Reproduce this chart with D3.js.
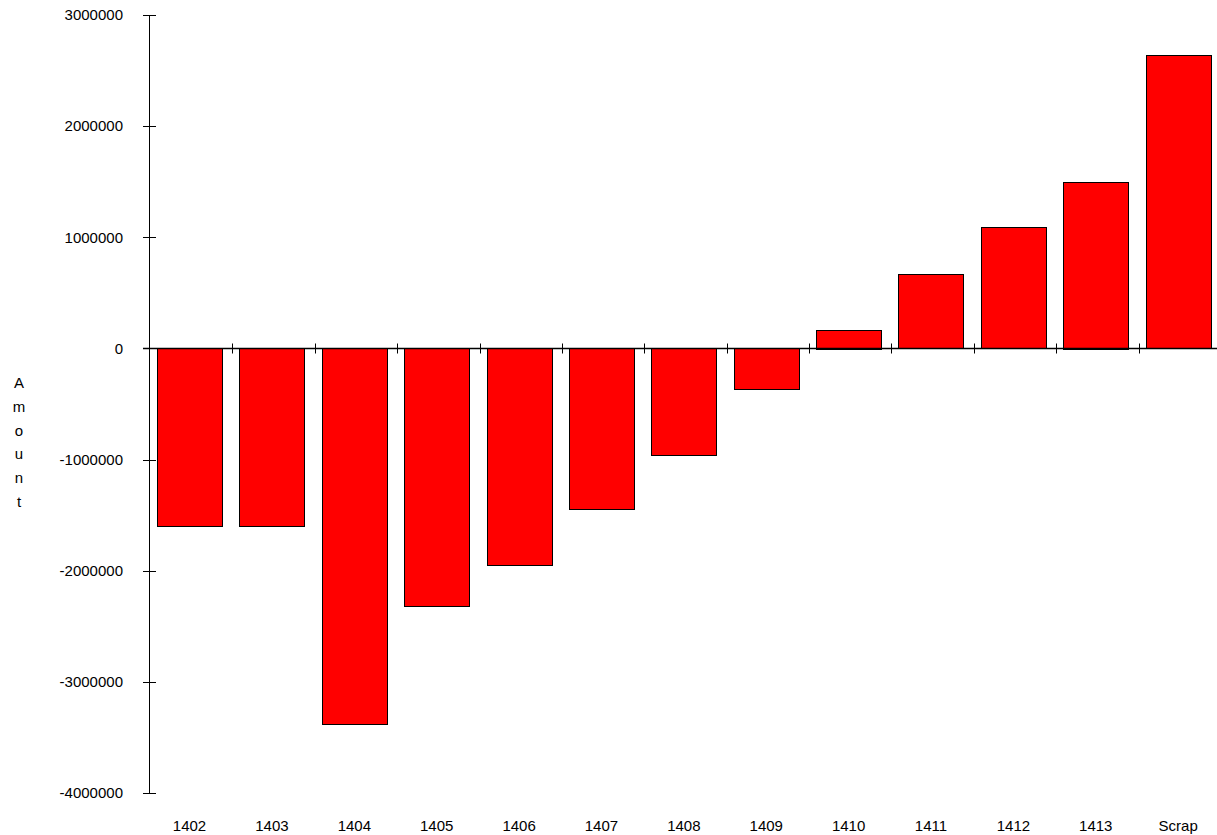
<!DOCTYPE html>
<meta charset="utf-8">
<style>
body { margin: 0; background: #fff; }
text { font-family: "Liberation Sans", Arial, sans-serif; fill: #000; }
.bar { fill: #ff0000; stroke: #000; stroke-width: 1px; }
.axis line, .axis path { stroke: #000; }
</style>
<body>
<svg id="chart"></svg>
<script src="https://d3js.org/d3.v7.min.js"></script>
<script>

var categories = ["1402", "1403", "1404", "1405", "1406", "1407", "1408", "1409", "1410", "1411", "1412", "1413", "Scrap"];
var amounts = [-1600000, -1600000, -3380000, -2320000, -1950000, -1450000, -960000, -370000, 170000, 670000, 1090000, 1500000, 2640000];
var yTicks = [3000000, 2000000, 1000000, 0, -1000000, -2000000, -3000000, -4000000];
var axisTitle = "Amount";

var width = 1217,
    height = 835;

var svg = d3.select("#chart")
    .attr("width", width)
    .attr("height", height);

var x = d3.scaleBand()
    .domain(categories)
    .range([150, 1221])
    .padding(0);

var y = d3.scaleLinear()
    .domain([-4000000, 3000000])
    .range([793, 15]);

var step = x.step();

// bars
svg.selectAll(".bar")
    .data(amounts)
  .enter().append("rect")
    .attr("class", "bar")
    .attr("x", function(d, i) { return Math.round(x(categories[i]) + step * 0.085) + 0.5; })
    .attr("width", Math.round(step * 0.79))
    .attr("y", function(d) { return Math.round(y(Math.max(0, d))) + 0.5; })
    .attr("height", function(d) { return Math.round(Math.abs(y(d) - y(0))); });

// y axis
var yAxis = svg.append("g").attr("class", "axis");
yAxis.append("line")
    .attr("x1", 149.5).attr("x2", 149.5)
    .attr("y1", y(3000000)).attr("y2", y(-4000000));
yAxis.selectAll(".ytick")
    .data(yTicks)
  .enter().append("line")
    .attr("x1", 143).attr("x2", 156)
    .attr("y1", function(d) { return Math.round(y(d)) + 0.5; })
    .attr("y2", function(d) { return Math.round(y(d)) + 0.5; });
yAxis.selectAll(".ylabel")
    .data(yTicks)
  .enter().append("text")
    .attr("x", 123)
    .attr("y", function(d) { return y(d); })
    .attr("dy", "0.35em")
    .attr("text-anchor", "end")
    .style("font-size", "15px")
    .text(function(d) { return d; });

// zero line with crossing ticks at band boundaries
var zeroY = Math.round(y(0)) + 0.5;
svg.append("line")
    .attr("x1", 143).attr("x2", width)
    .attr("y1", zeroY).attr("y2", zeroY)
    .attr("stroke", "#000")
    .attr("stroke-width", 1.5);
svg.selectAll(".xtick")
    .data(categories.slice(1))
  .enter().append("line")
    .attr("x1", function(d) { return Math.round(x(d)) + 0.5; })
    .attr("x2", function(d) { return Math.round(x(d)) + 0.5; })
    .attr("y1", zeroY - 5).attr("y2", zeroY + 5)
    .attr("stroke", "#000");

// category labels
svg.selectAll(".xlabel")
    .data(categories)
  .enter().append("text")
    .attr("x", function(d) { return x(d) + step * 0.085 + step * 0.395; })
    .attr("y", 826)
    .attr("dy", "0.35em")
    .attr("text-anchor", "middle")
    .style("font-size", "15px")
    .text(function(d) { return d; });

// vertical axis title, one letter per line
svg.append("g").selectAll("text")
    .data(axisTitle.split(""))
  .enter().append("text")
    .attr("x", 19)
    .attr("y", function(d, i) { return 383 + i * 23.7; })
    .attr("dy", "0.35em")
    .attr("text-anchor", "middle")
    .style("font-size", "15px")
    .text(function(d) { return d; });

</script>
</body>
